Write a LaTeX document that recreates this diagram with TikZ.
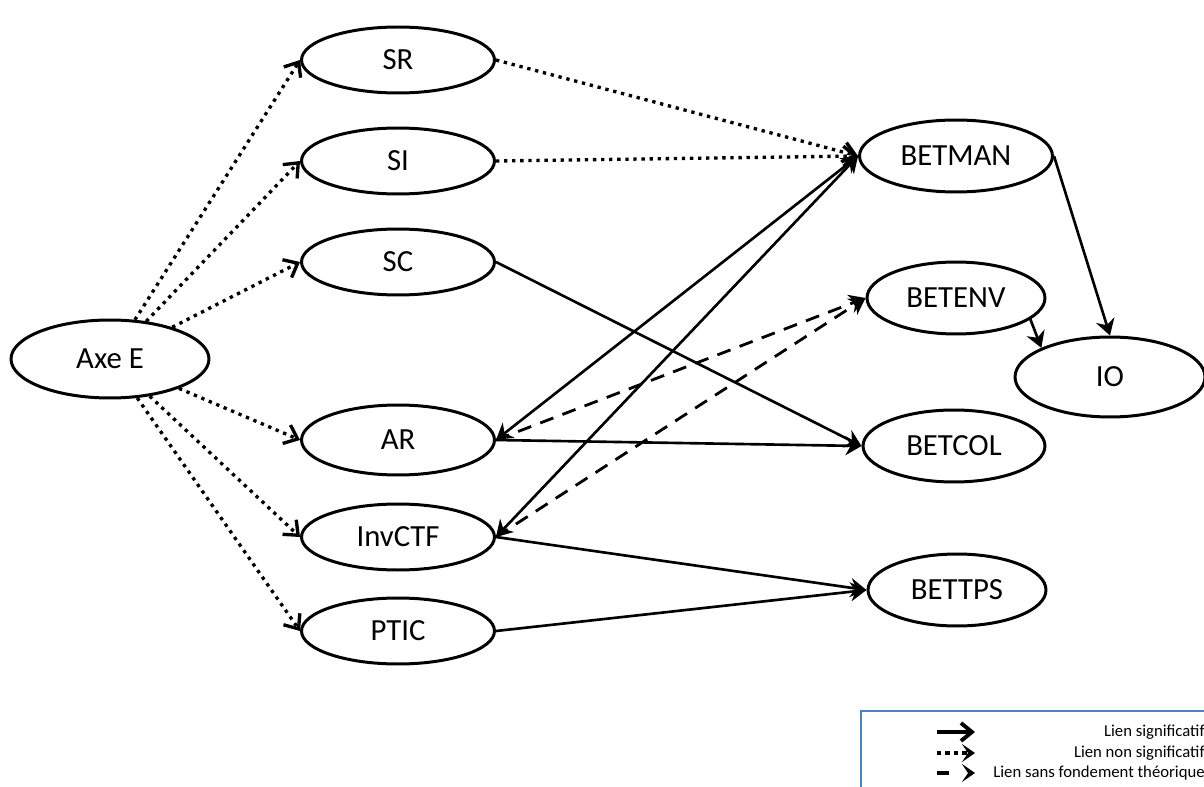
\documentclass[tikz,border=0pt]{standalone}
\usepackage{fontspec}
\setmainfont{Carlito}
\usepackage{tikz}
\usetikzlibrary{shapes.geometric,arrows.meta}
\definecolor{legblue}{RGB}{79,129,189}

\begin{document}
\begin{tikzpicture}[x=0.02cm,y=-0.02cm,
  var/.style args = {#1/#2}{ellipse, draw, line width=1.7pt, minimum width=#1, minimum height=#2, inner sep=0pt, font=\fontsize{17.5}{20}\selectfont},
  sig/.style = {draw, line width=1.5pt, -{Stealth[length=3.2mm,width=3.8mm]}},
  sigb/.style = {draw, line width=1.5pt, {Stealth[length=3.2mm,width=3.8mm]}-{Stealth[length=3.2mm,width=3.8mm]}},
  nsig/.style = {draw, line width=1.9pt, dash pattern=on 1.9pt off 2.7pt, -{Straight Barb[length=2.4mm,width=4mm]}},
  sft/.style = {draw, line width=1.6pt, dash pattern=on 8pt off 5.5pt, -{Stealth[length=3.2mm,width=3.8mm]}},
  leg/.style = {anchor=east, inner sep=0pt, font=\fontsize{9.5}{10}\selectfont}]
\useasboundingbox (0,0) rectangle (1204,787);
\node (ax) [var=3.96cm/1.56cm] at (110,359) {Axe E};
\node (sr) [var=3.86cm/1.32cm] at (398,60) {SR};
\node (si) [var=3.86cm/1.32cm] at (398,161) {SI};
\node (sc) [var=3.86cm/1.32cm] at (398,262) {SC};
\node (ar) [var=3.86cm/1.4cm] at (398,440) {AR};
\node (invctf) [var=3.86cm/1.32cm] at (398,537) {InvCTF};
\node (ptic) [var=3.86cm/1.32cm] at (398,631) {PTIC};
\node (betman) [var=3.86cm/1.44cm] at (956,156) {BETMAN};
\node (betenv) [var=3.56cm/1.44cm] at (956,298) {BETENV};
\node (io) [var=3.8cm/1.6cm] at (1110,377) {IO};
\node (betcol) [var=3.64cm/1.44cm] at (954,446) {BETCOL};
\node (bettps) [var=3.56cm/1.44cm] at (957,590) {BETTPS};
% liens non significatifs
\foreach \from/\to in {ax/sr.west, ax/si.west, ax/sc.west, ax/ar.west, ax/invctf.west, ax/ptic.west, sr.east/betman.west, si.east/betman.west}
\draw[nsig] (\from) -- (\to);
% liens significatifs
\foreach \from/\to in {sc.east/betcol.west, ar.east/betcol.west, invctf.east/bettps.west, ptic.east/bettps.west, betman.east/io.north, betenv.-16/io.157}
\draw[sig] (\from) -- (\to);
\foreach \from/\to in {ar.east/betman.west, invctf.east/betman.west}
\draw[sigb] (\from) -- (\to);
% liens sans fondement
\foreach \from/\to in {ar.east/betenv.west, invctf.east/betenv.west}
\draw[sft] (\from) -- (\to);
% legende
\draw[legblue, line width=0.7pt] (861,711) rectangle (1215,800);
\coordinate (l1a) at (937,732); \coordinate (l1b) at (975,732);
\coordinate (l2a) at (937,753); \coordinate (l2b) at (975,753);
\coordinate (l3a) at (937,773); \coordinate (l3b) at (975,773);
\draw[draw, line width=2.2pt, -{Straight Barb[length=2.2mm,width=3.6mm]}] (l1a) -- (l1b);
\draw[nsig, line width=2.4pt, dash pattern=on 2.4pt off 2.4pt, -{Stealth[length=2.6mm,width=3.6mm,inset=1.2mm]}] (l2a) -- (l2b);
\draw[sft, line width=2.4pt, dash pattern=on 7pt off 20pt, -{Stealth[length=2.6mm,width=3.6mm,inset=1.2mm]}] (l3a) -- (l3b);
\node (t1) [leg] at (1205,732) {Lien significatif};
\node (t2) [leg] at (1205,753) {Lien non significatif};
\node (t3) [leg] at (1205,773) {Lien sans fondement théorique};
\end{tikzpicture}
\end{document}
